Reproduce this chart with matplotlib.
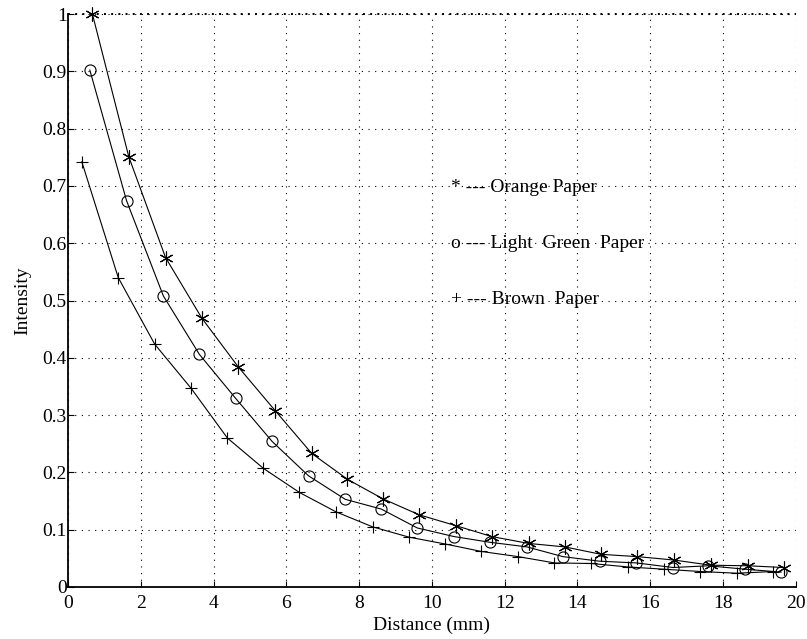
import matplotlib
matplotlib.use("Agg")
import matplotlib.pyplot as plt

orange_x = [0.67, 1.67, 2.68, 3.68, 4.68, 5.69, 6.70, 7.68, 8.65, 9.65,
            10.66, 11.65, 12.66, 13.65, 14.65, 15.65, 16.66, 17.67, 18.69, 19.67]
orange_y = [1.000, 0.751, 0.575, 0.469, 0.384, 0.308, 0.233, 0.188, 0.154, 0.126,
            0.107, 0.088, 0.076, 0.070, 0.057, 0.053, 0.047, 0.038, 0.037, 0.034]

green_x = [0.60, 1.61, 2.62, 3.61, 4.61, 5.61, 6.61, 7.62, 8.61, 9.60,
           10.61, 11.60, 12.61, 13.60, 14.61, 15.62, 16.63, 17.60, 18.61, 19.60]
green_y = [0.902, 0.674, 0.508, 0.406, 0.329, 0.254, 0.194, 0.153, 0.136, 0.103,
           0.088, 0.078, 0.070, 0.053, 0.045, 0.042, 0.034, 0.037, 0.031, 0.026]

brown_x = [0.38, 1.38, 2.38, 3.38, 4.38, 5.37, 6.36, 7.37, 8.37, 9.37,
           10.37, 11.36, 12.37, 13.37, 14.38, 15.38, 16.39, 17.38, 18.39, 19.38]
brown_y = [0.742, 0.540, 0.424, 0.347, 0.260, 0.207, 0.165, 0.131, 0.105, 0.087,
           0.075, 0.062, 0.053, 0.042, 0.041, 0.035, 0.031, 0.027, 0.024, 0.027]

legend_labels = ["* --- Orange Paper", "o --- Light  Green  Paper", "+ --- Brown  Paper"]
legend_y = [0.698, 0.600, 0.501]

xticks = list(range(0, 21, 2))
yticks = [0, 0.1, 0.2, 0.3, 0.4, 0.5, 0.6, 0.7, 0.8, 0.9, 1]
ytick_labels = ["0", "0.1", "0.2", "0.3", "0.4", "0.5", "0.6", "0.7", "0.8", "0.9", "1"]

plt.rcParams['font.family'] = ['Liberation Serif', 'DejaVu Serif']

fig = plt.figure(figsize=(8.07, 6.39), dpi=100)
ax = fig.add_axes([0.0843, 0.0814, 0.9017, 0.8966])

lw = 0.8
ax.plot(orange_x, orange_y, color='black', lw=lw, marker=(6, 2, 0), ms=10, mew=0.8, clip_on=False, zorder=3)
ax.plot(green_x, green_y, color='black', lw=lw, marker='o', ms=8, mfc='none', mew=0.8, zorder=3)
ax.plot(brown_x, brown_y, color='black', lw=lw, marker='+', ms=9, mew=0.8, zorder=3)

fs = 14
for lab, yy in zip(legend_labels, legend_y):
    ax.text(10.52, yy, lab, fontsize=fs, va='center', ha='left')

ax.set_xlim(0, 20)
ax.set_ylim(0, 1)
ax.set_xticks(xticks)
ax.set_yticks(yticks)
ax.set_yticklabels(ytick_labels)
ax.tick_params(direction='in', labelsize=fs, length=4, width=0.8, colors='black')
ax.tick_params(axis='x', pad=6)
ax.tick_params(axis='y', pad=1)
ax.grid(True, color='black', linestyle=(0, (1, 5)), linewidth=0.8)
ax.spines['top'].set_visible(False)
ax.axhline(1.0, color='black', lw=1.4, linestyle=(0, (1, 2.7)), clip_on=False, zorder=2)
ax.spines['right'].set_visible(False)
ax.spines['left'].set_linewidth(1.3)
ax.spines['bottom'].set_linewidth(1.3)

ax.set_xlabel("Distance (mm)", fontsize=fs, labelpad=3)
ax.set_ylabel("Intensity", fontsize=fs, labelpad=8)

fig.savefig("out.png", dpi=100)
